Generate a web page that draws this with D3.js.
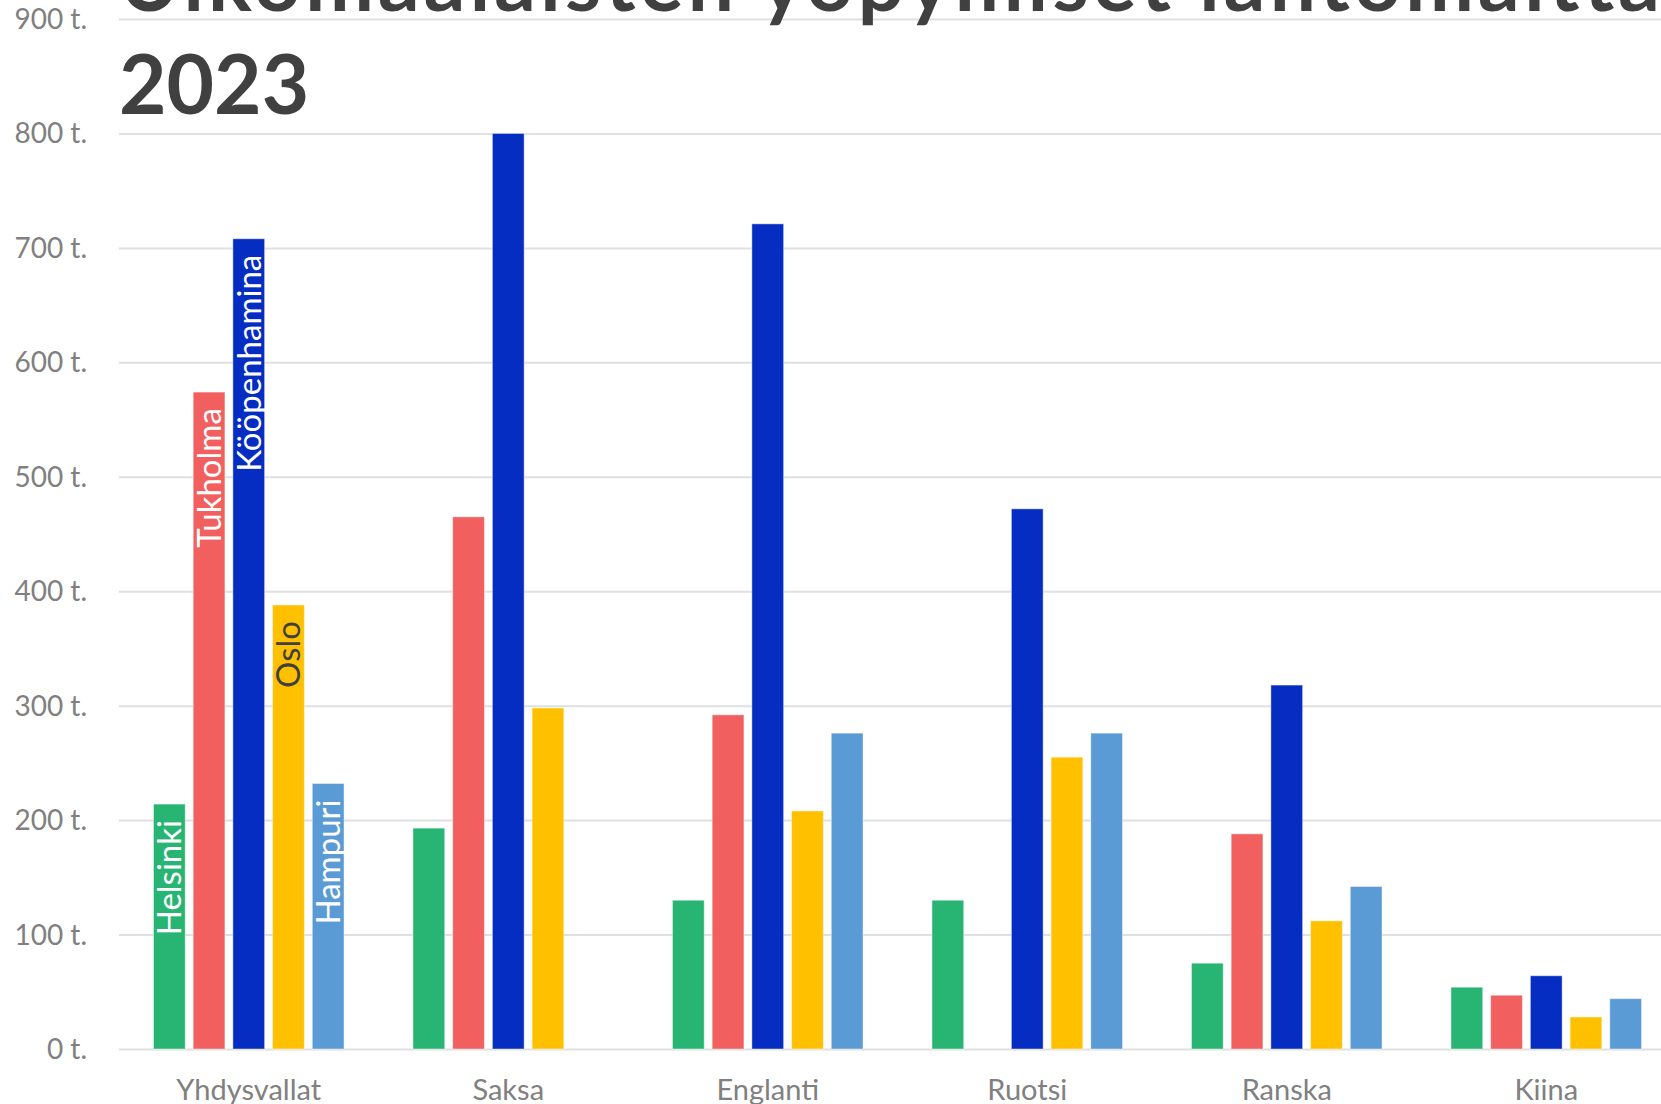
<!DOCTYPE html>
<html lang="fi">
<head>
<meta charset="utf-8">
<script src="https://cdn.jsdelivr.net/npm/d3@7"></script>
<style>
  html, body { margin: 0; padding: 0; background: #fff; overflow: hidden; }
  svg { display: block; }
</style>
</head>
<body>
<svg id="chart" width="1661" height="1104"></svg>
<script>
// Lähtömaat (x-akselin ryhmät)
const countries = ["Yhdysvallat", "Saksa", "Englanti", "Ruotsi", "Ranska", "Kiina"];
// Kaupungit (sarjat)
const cities = ["Helsinki", "Tukholma", "Kööpenhamina", "Oslo", "Hampuri"];
const cityColors = ["#28B473", "#F15F5E", "#052DC2", "#FFC000", "#5B9BD5"];
const labelColors = ["#ffffff", "#ffffff", "#ffffff", "#404040", "#ffffff"];

// Yöpymiset tuhansina, yksi taulukko kaupunkia kohti (null = ei tietoa)
const helsinki      = [214, 193, 130, 130,  75, 54];
const tukholma      = [574, 465, 292, null, 188, 47];
const kooppenhamina = [708, 800, 721, 472, 318, 64];
const oslo          = [388, 298, 208, 255, 112, 28];
const hampuri       = [232, null, 276, 276, 142, 44];
const seriesValues = [helsinki, tukholma, kooppenhamina, oslo, hampuri];

const yTicks = [0, 100, 200, 300, 400, 500, 600, 700, 800, 900];
const titleLines = ["Ulkomaalaisten yöpymiset lähtömaittain", "2023"];

const svg = d3.select("#chart");
const font = "Lato, 'Open Sans', sans-serif";

const plotLeft = 119, plotRight = 1676, plotTop = 19, plotBottom = 1049;

const y = d3.scaleLinear().domain([0, 900]).range([plotBottom, plotTop]);
const x0 = d3.scaleBand().domain(countries).range([plotLeft, plotRight]).padding(0);
const x1 = d3.scaleBand().domain(cities).range([0, x0.bandwidth()])
  .paddingInner(0.2).paddingOuter(0.868);

// Vaakasuorat apuviivat
const yAxis = d3.axisLeft(y).tickValues(yTicks).tickSize(-(plotRight - plotLeft))
  .tickFormat(d => d + " t.");
const gAxis = svg.append("g").attr("transform", `translate(${plotLeft},0)`).call(yAxis);
gAxis.select(".domain").remove();
gAxis.selectAll(".tick line").attr("stroke", "#e0e0e0").attr("stroke-width", 2);
gAxis.selectAll(".tick text")
  .attr("x", -32).attr("dy", "0.34em")
  .attr("fill", "#808080")
  .style("font-family", font).style("font-size", "28px");

// Otsikko
const title = svg.append("text")
  .attr("x", plotLeft)
  .attr("fill", "#404040")
  .style("font-family", font).style("font-size", "82px").style("font-weight", "bold");
title.selectAll("tspan").data(titleLines).join("tspan")
  .attr("x", plotLeft)
  .attr("y", (d, i) => 11 + i * 103)
  .style("letter-spacing", (d, i) => i === 0 ? "4.2px" : "0px")
  .text(d => d);

// Pylväät
const rows = countries.map((c, ci) => ({
  country: c,
  values: cities.map((city, si) => ({ city, si, ci, v: seriesValues[si][ci] }))
    .filter(d => d.v != null)
}));

const groups = svg.append("g").selectAll("g").data(rows).join("g")
  .attr("transform", d => `translate(${x0(d.country)},0)`);

groups.selectAll("rect").data(d => d.values).join("rect")
  .attr("x", d => x1(d.city))
  .attr("y", d => y(d.v))
  .attr("width", x1.bandwidth())
  .attr("height", d => y(0) - y(d.v))
  .attr("fill", d => cityColors[d.si])
  .attr("stroke", "rgba(255,255,255,0.45)")
  .attr("stroke-width", 1);

// Sarjojen nimet ensimmäisen ryhmän pylväissä
groups.filter((d, i) => i === 0).selectAll("text.city").data(d => d.values).join("text")
  .attr("class", "city")
  .attr("transform", d => `translate(${x1(d.city) + x1.bandwidth() / 2},${y(d.v) + 16}) rotate(-90)`)
  .attr("text-anchor", "end")
  .attr("dy", "0.36em")
  .attr("fill", d => labelColors[d.si])
  .style("font-family", font).style("font-size", "33px")
  .text(d => d.city);

// Maiden nimet
svg.append("g").selectAll("text").data(countries).join("text")
  .attr("x", d => x0(d) + x0.bandwidth() / 2)
  .attr("y", 1100)
  .attr("text-anchor", "middle")
  .attr("fill", "#808080")
  .style("font-family", font).style("font-size", "29px")
  .text(d => d);
</script>
</body>
</html>
